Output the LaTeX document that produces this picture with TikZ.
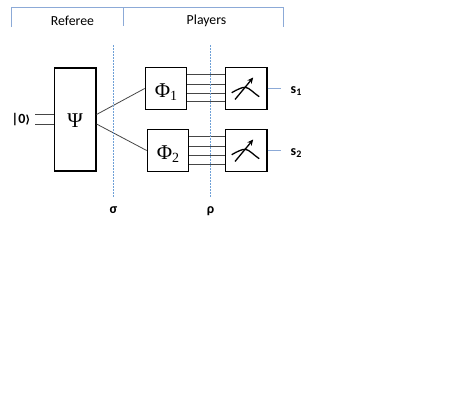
\documentclass[tikz,border=0pt]{standalone}
\usepackage{fontspec}
\setmainfont{Carlito}
\newfontfamily\symfont{Liberation Serif}
\newfontfamily\ketfont{DejaVu Sans}
\usetikzlibrary{arrows.meta}
\definecolor{hdr}{RGB}{140,170,215}
\definecolor{dotc}{RGB}{110,160,215}
\definecolor{wire}{RGB}{70,70,70}
\tikzset{
  box/.style={draw=black,line width=1.2pt,fill=white,inner sep=0pt,minimum width=#1},
  hdrline/.style={draw=hdr,line width=0.8pt},
  wireline/.style={draw=wire,line width=0.8pt},
  dotline/.style={draw=dotc,line width=0.7pt,dash pattern=on 1.5pt off 1.5pt},
  lbl/.style={inner sep=0pt,font=\fontsize{14}{16}\selectfont\bfseries},
  hlbl/.style={inner sep=0pt,font=\fontsize{13.8}{16}\selectfont},
  sym/.style={font=\symfont\fontsize{21}{24}\selectfont},
  meterline/.style={draw=black,line width=1.3pt}
}
\newcommand{\phisub}[1]{\raisebox{-8.5pt}[0pt][0pt]{Φ{\fontsize{14}{14}\selectfont\raisebox{-3.5pt}{#1}}}}
\newcommand{\metersign}[1]{%
  \draw[meterline] ([shift={(-14.5,4.2)}]#1.center) .. controls ([shift={(-9,1)}]#1.center) and ([shift={(-4,-1.4)}]#1.center) .. ([shift={(-1,-1.2)}]#1.center) .. controls ([shift={(3,-1)}]#1.center) and ([shift={(8,5)}]#1.center) .. ([shift={(13,8.2)}]#1.center);
  \draw[meterline,-{Stealth[length=6pt,width=5.5pt]}] ([shift={(-11.2,11)}]#1.center) -- ([shift={(7,-11)}]#1.center);
}
\begin{document}
\begin{tikzpicture}[x=1pt,y=-1pt]
\useasboundingbox (0,0) rectangle (457,415);
% header
\coordinate (h1) at (11,27);
\coordinate (h2) at (11,7);
\coordinate (h3) at (283,7);
\coordinate (h4) at (283,27);
\coordinate (h5) at (123,7);
\coordinate (h6) at (123,26);
\draw[hdrline] (h1) -- (h2) -- (h3) -- (h4);
\draw[hdrline] (h5) -- (h6);
\node[hlbl] (referee) at (72.5,21) {Referee};
\node[hlbl] (players) at (206.5,21) {Players};
% boxes
\node[box=41.5pt,minimum height=103pt,sym] (psi) at (75.2,119.5) {\raisebox{-7.5pt}[0pt][0pt]{Ψ}};
\node[box=41.5pt,minimum height=41.5pt,sym] (phi1) at (166,88.5) {\phisub{1}};
\node[box=41.5pt,minimum height=41.5pt,sym] (phi2) at (168,150.5) {\phisub{2}};
\node[box=41.5pt,minimum height=41.5pt] (m1) at (246.2,88.5) {};
\node[box=41.5pt,minimum height=41.5pt] (m2) at (246.2,150.5) {};
\metersign{m1}
\metersign{m2}
% input
\node[lbl] (ket) at (21,120) {|0{\ketfont\fontsize{11}{12}\selectfont ⟩}};
\coordinate (in1) at (35,114.5);
\coordinate (in2) at (35,124);
\draw[wireline] (in1) -- (in1 -| psi.west);
\draw[wireline] (in2) -- (in2 -| psi.west);
% psi to phi
\path (psi.east) ++(0,-5) coordinate (pa) (psi.east) ++(0,4.5) coordinate (pb);
\draw[wireline] (pa) -- (phi1.west);
\draw[wireline] (pb) -- (phi2.west);
% wires
\foreach \y in {-14,-4.5,4.5,12.5}
  \draw[wireline] ([yshift=-\y pt]phi1.east) -- ([yshift=-\y pt]phi1.east -| m1.west);
\foreach \y in {-14.5,-4.5,4.5,13.5}
  \draw[wireline] ([yshift=-\y pt]phi2.east) -- ([yshift=-\y pt]phi2.east -| m2.west);
% dotted
\coordinate (s1) at (113.5,45);
\coordinate (s2) at (113.5,197);
\coordinate (r1) at (210.5,45);
\coordinate (r2) at (210.5,197);
\draw[dotline] (s1) -- (s2);
\draw[dotline] (r1) -- (r2);
\node[lbl] (sigma) at (113.5,210) {σ};
\node[lbl] (rho) at (210.5,211) {ρ};
% outputs
\node[lbl] (s1l) at (296,91) {s{\fontsize{10}{10}\selectfont\raisebox{-2pt}{1}}};
\node[lbl] (s2l) at (296,153.5) {s{\fontsize{10}{10}\selectfont\raisebox{-2pt}{2}}};
\draw[hdrline] (m1.east) -- ([xshift=13pt]m1.east);
\draw[hdrline] (m2.east) -- ([xshift=13pt]m2.east);
\end{tikzpicture}
\end{document}
